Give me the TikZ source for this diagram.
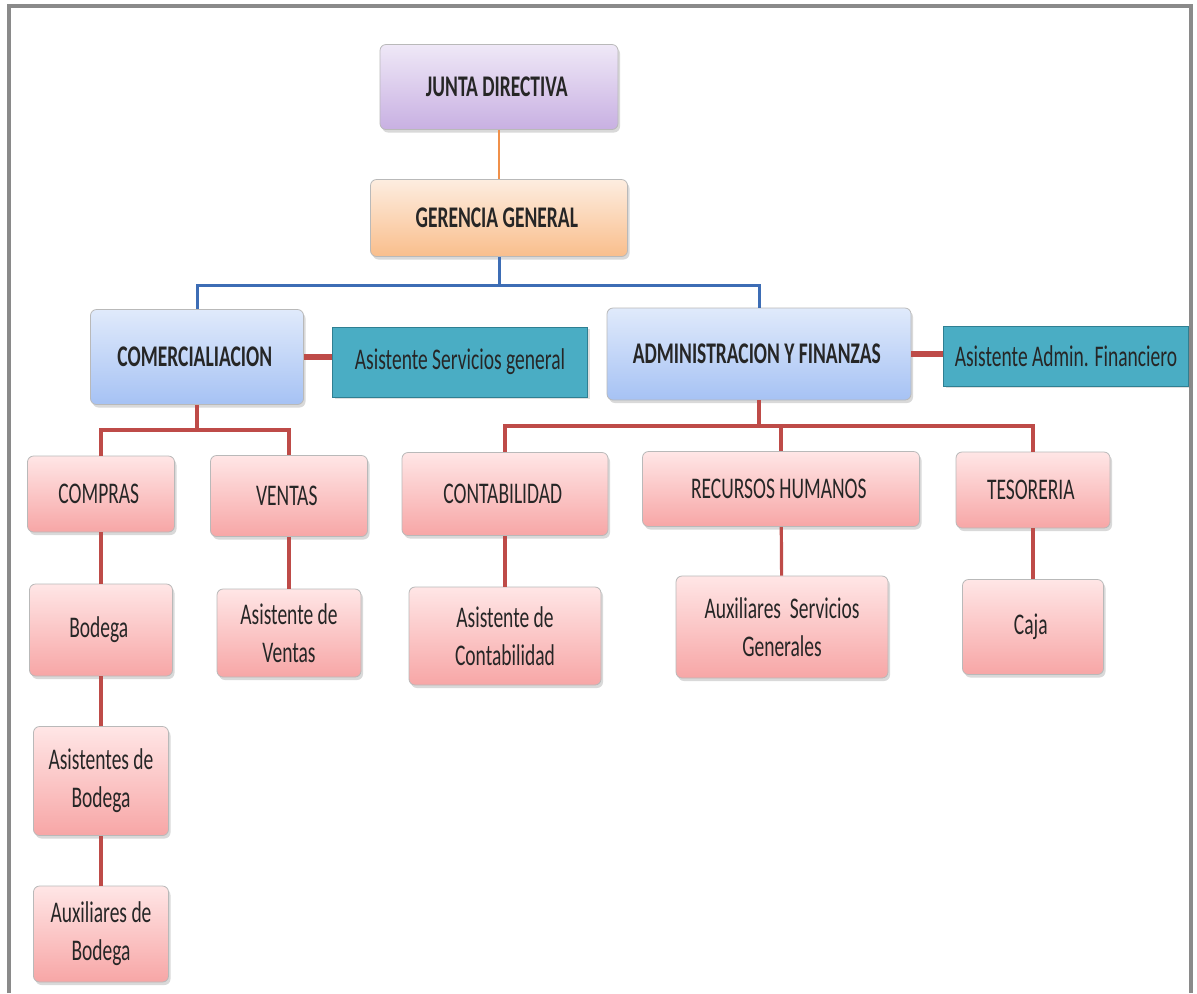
\documentclass[tikz,border=0pt]{standalone}
\usepackage{fontspec}
\setmainfont{Carlito}[FakeStretch=0.65]
\usepackage{tikz}
\usetikzlibrary{shapes,arrows,positioning,shadows}
\definecolor{juntaTop}{HTML}{EFE8F7}
\definecolor{juntaBot}{HTML}{C8B0E2}
\definecolor{gerTop}{HTML}{FDEDE0}
\definecolor{gerBot}{HTML}{F9BE8C}
\definecolor{areaTop}{HTML}{E0EAFB}
\definecolor{areaBot}{HTML}{A6C2F4}
\definecolor{depTop}{HTML}{FFE6E6}
\definecolor{depBot}{HTML}{F7A6A6}
\definecolor{asisFill}{HTML}{4AADC4}
\definecolor{asisDraw}{HTML}{2F7F92}
\definecolor{orangeLine}{HTML}{F0904A}
\definecolor{blueLine}{HTML}{3D6DB5}
\definecolor{redLine}{HTML}{BE4B48}
\definecolor{frameGray}{HTML}{8A8A8A}
\tikzstyle{box} = [rectangle, draw=gray!55, rounded corners=3pt, align=center, inner sep=0pt, text=black!85, font=\fontsize{15}{19}\selectfont, drop shadow={opacity=0.3, shadow xshift=1pt, shadow yshift=-1.5pt}]
\tikzstyle{junta} = [box, top color=juntaTop, bottom color=juntaBot, font=\fontsize{15}{19}\selectfont\bfseries]
\tikzstyle{gerencia} = [box, top color=gerTop, bottom color=gerBot, font=\fontsize{15}{19}\selectfont\bfseries]
\tikzstyle{area} = [box, top color=areaTop, bottom color=areaBot, font=\fontsize{15}{19}\selectfont\bfseries]
\tikzstyle{dep} = [box, top color=depTop, bottom color=depBot]
\tikzstyle{asis} = [rectangle, draw=asisDraw, fill=asisFill, inner sep=0pt, text=black!85, font=\fontsize{15}{19}\selectfont, drop shadow={opacity=0.25, shadow xshift=1pt, shadow yshift=-1pt}]
\tikzstyle{oline} = [draw=orangeLine, line width=1.2pt]
\tikzstyle{bline} = [draw=blueLine, line width=1.5pt]
\tikzstyle{rline} = [draw=redLine, line width=1.6pt]
\tikzstyle{sline} = [draw=redLine, line width=3pt]

\begin{document}
\begin{tikzpicture}[x=0.5pt, y=-0.5pt]
            \useasboundingbox (0,0) rectangle (1197,993);
            \draw[frameGray, line width=1.6pt] (9,993) -- (9,6) -- (1191,6) -- (1191,993);

            \node[junta, minimum width=119pt, minimum height=42.5pt]       (junta) at (499,87){
                JUNTA DIRECTIVA
            };

            \node[gerencia, minimum width=128.5pt, minimum height=38.5pt]  (gerencia) at (499,218){
                GERENCIA GENERAL
            };
            \path[oline] (junta) --                  (gerencia);

            \coordinate (bus_gerencia) at (499,285);
            \node[area, minimum width=106.5pt, minimum height=47.5pt]      (comercial) at (197,357){
                COMERCIALIACION
            };
            \node[area, minimum width=152pt, minimum height=46pt]          (admin) at (759,354){
                ADMINISTRACION Y FINANZAS
            };
            \path[bline] (gerencia) --               (bus_gerencia) -| (comercial);
            \path[bline] (bus_gerencia) -|           (admin);

            \node[asis, minimum width=127.5pt, minimum height=35pt]        (asis_servicios) at (460,362){
                Asistente Servicios general
            };
            \path[sline] (comercial.east) --         (comercial.east -| asis_servicios.west);

            \node[asis, minimum width=122.5pt, minimum height=30pt]        (asis_admin) at (1066,356){
                Asistente Admin. Financiero
            };
            \path[sline] (admin.east) --             (admin.east -| asis_admin.west);

            \coordinate (bus_comercial) at (197,430);
            \node[dep, minimum width=73.5pt, minimum height=38pt]          (compras) at (101,494){
                COMPRAS
            };
            \node[dep, minimum width=78.5pt, minimum height=40.5pt]        (ventas) at (289,496){
                VENTAS
            };
            \path[rline] (comercial) --              (bus_comercial) -| (compras);
            \path[rline] (bus_comercial) -|          (ventas);

            \node[dep, minimum width=71.5pt, minimum height=46pt]          (bodega) at (101,630){
                Bodega
            };
            \path[rline] (compras) --                (bodega);

            \node[dep, minimum width=67.5pt, minimum height=54.5pt]        (asis_bodega) at (101,781){
                Asistentes de\\Bodega
            };
            \path[rline] (bodega) --                 (asis_bodega);

            \node[dep, minimum width=67.5pt, minimum height=48pt]          (aux_bodega) at (101,934){
                Auxiliares de\\Bodega
            };
            \path[rline] (asis_bodega) --            (aux_bodega);

            \node[dep, minimum width=72pt, minimum height=44pt]            (asis_ventas) at (289,633){
                Asistente de\\Ventas
            };
            \path[rline] (ventas) --                 (asis_ventas);

            \coordinate (bus_admin) at (759,426);
            \node[dep, minimum width=103pt, minimum height=41.5pt]         (contabilidad) at (505,494){
                CONTABILIDAD
            };
            \node[dep, minimum width=138.5pt, minimum height=37.5pt]       (rrhh) at (781,489){
                RECURSOS HUMANOS
            };
            \node[dep, minimum width=77pt, minimum height=38pt]            (tesoreria) at (1033,490){
                TESORERIA
            };
            \path[rline] (admin) --                  (bus_admin) -| (contabilidad);
            \path[rline] (bus_admin) -|              (rrhh);
            \path[rline] (bus_admin) -|              (tesoreria);

            \node[dep, minimum width=96pt, minimum height=49pt]            (asis_contabilidad) at (505,636){
                Asistente de\\Contabilidad
            };
            \path[rline] (contabilidad) --           (asis_contabilidad);

            \node[dep, minimum width=106pt, minimum height=51pt]           (aux_servicios) at (782,627){
                Auxiliares~~Servicios\\Generales
            };
            \path[rline] (rrhh) --                   (aux_servicios);

            \node[dep, minimum width=70.5pt, minimum height=47.5pt]        (caja) at (1033,627){
                Caja
            };
            \path[rline] (tesoreria) --              (caja);
        \end{tikzpicture}
\end{document}
